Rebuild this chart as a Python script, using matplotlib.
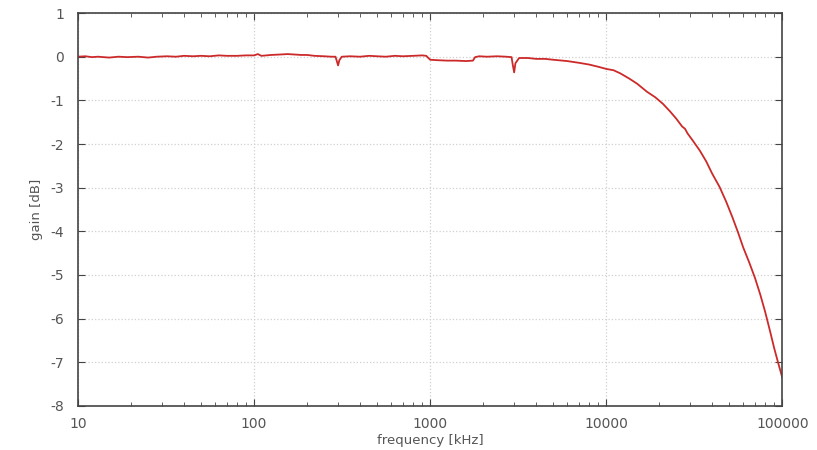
import matplotlib
matplotlib.use("Agg")
import matplotlib.pyplot as plt
from matplotlib.ticker import LogLocator, FixedLocator, NullFormatter
import numpy as np

# frequency [kHz] and gain [dB]
freq = [10, 11, 12, 13, 15, 17, 19, 22, 25, 28, 32, 36, 40, 45, 50, 56, 63, 70,
        80, 90, 100, 105, 110, 125, 140, 155, 170, 185, 200, 220, 250, 275, 290,
        295, 300, 305, 315, 350, 400, 450, 500, 560, 630, 700, 800, 900, 950,
        1000, 1100, 1250, 1400, 1600, 1750, 1800, 1900, 2100, 2400, 2700, 2900,
        2950, 3000, 3050, 3200, 3600, 4000, 4500, 5000, 6000, 7000, 8000, 9000,
        10000, 11000, 12000, 13500, 15000, 17000, 19000, 21000, 23000, 25000,
        27000, 28000, 29000, 31000, 34000, 37000, 40000, 44000, 48000, 52000,
        56000, 60000, 65000, 70000, 75000, 80000, 85000, 90000, 95000, 100000]
gain = [0.0, 0.01, -0.01, 0.0, -0.02, 0.0, -0.01, 0.0, -0.02, 0.0, 0.01, 0.0,
        0.02, 0.01, 0.02, 0.01, 0.03, 0.02, 0.02, 0.03, 0.03, 0.06, 0.02, 0.04,
        0.05, 0.06, 0.05, 0.04, 0.04, 0.02, 0.01, 0.0, 0.0, -0.1, -0.2, -0.08,
        0.0, 0.01, 0.0, 0.02, 0.01, 0.0, 0.02, 0.01, 0.02, 0.03, 0.02, -0.07,
        -0.08, -0.09, -0.09, -0.1, -0.09, -0.01, 0.01, 0.0, 0.01, 0.0, -0.01,
        -0.2, -0.36, -0.15, -0.03, -0.03, -0.05, -0.05, -0.07, -0.1, -0.14,
        -0.18, -0.23, -0.28, -0.31, -0.38, -0.5, -0.62, -0.8, -0.93, -1.08,
        -1.25, -1.42, -1.6, -1.65, -1.76, -1.92, -2.15, -2.4, -2.68, -2.98,
        -3.32, -3.67, -4.02, -4.37, -4.72, -5.07, -5.45, -5.85, -6.27, -6.68,
        -7.03, -7.35]

yticks = [1, 0, -1, -2, -3, -4, -5, -6, -7, -8]
xticks = [10, 100, 1000, 10000, 100000]

grey = "#555555"
fig = plt.figure(figsize=(8.17, 4.5), dpi=100)
ax = fig.add_axes([0.0955, 0.098, 0.862, 0.873])
ax.plot(freq, gain, color="#cc2a2a", linewidth=1.3)
ax.set_xscale("log")
ax.set_xlim(10, 100000)
ax.set_ylim(-8, 1)

ax.xaxis.set_major_locator(FixedLocator(xticks))
ax.set_xticklabels([str(x) for x in xticks])
ax.xaxis.set_minor_locator(LogLocator(base=10, subs=np.arange(2, 10)))
ax.xaxis.set_minor_formatter(NullFormatter())
ax.set_yticks(yticks)
ax.set_yticklabels([str(y) for y in yticks])

ax.tick_params(which="both", direction="in", top=True, right=True,
               colors="#444444", labelcolor=grey, labelsize=10)
ax.tick_params(which="major", length=5)
ax.tick_params(which="minor", length=3)
ax.tick_params(axis="x", pad=8)
ax.tick_params(axis="y", pad=10)
for s in ax.spines.values():
    s.set_color("#444444")
    s.set_linewidth(1.2)

ax.grid(True, which="major", color="#d0d0d0", linestyle=":", linewidth=0.9)
ax.set_xlabel("frequency [kHz]", color=grey, fontsize=9.5, labelpad=2)
ax.set_ylabel("gain [dB]", color=grey, fontsize=9.5, labelpad=5)

fig.savefig("out.png", dpi=100)
